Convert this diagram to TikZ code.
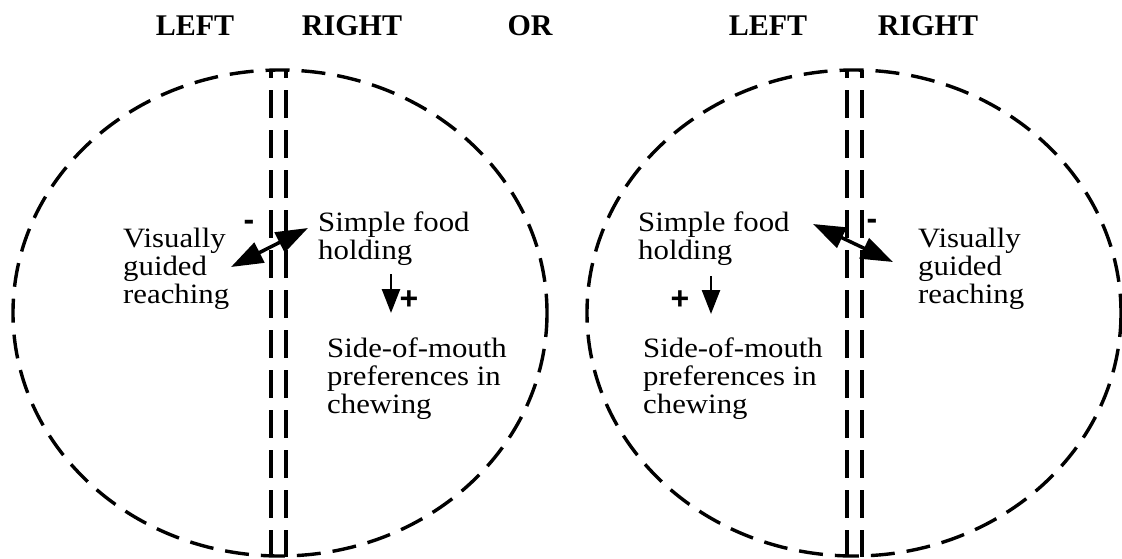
\documentclass[tikz,border=0pt]{standalone}
\usepackage{fontspec}
\setmainfont{Liberation Serif}
\newfontfamily\bodyfont{Liberation Serif}[FakeStretch=1.1]
\newfontfamily\signfont{Liberation Sans}
\usetikzlibrary{arrows.meta}
\begin{document}
\begin{tikzpicture}[x=1pt,y=-1pt,
  outline/.style={line width=3.4pt, dash pattern=on 24pt off 12pt},
  divider/.style={line width=3.4pt, dash pattern=on 28pt off 12pt, dash phase=20pt},
  body/.style={font=\bodyfont\fontsize{28}{28}\selectfont, align=left, inner sep=0pt, anchor=base west},
  title/.style={font=\bfseries\fontsize{30}{32}\selectfont, inner sep=0pt, anchor=base},
  sign/.style={font=\signfont\bfseries\fontsize{32}{32}\selectfont, inner sep=0pt},
  dbl/.style={line width=3.5pt, {Triangle[length=32pt,width=22pt]}-{Triangle[length=32pt,width=22pt]}},
  down/.style={line width=2.5pt, -{Triangle[length=24pt,width=18pt]}}]
\useasboundingbox (0,0) rectangle (1122,558);
% titles
\node[title] (tL1) at (195,35) {LEFT};
\node[title] (tR1) at (352,35) {RIGHT};
\node[title] (tOR) at (530,35) {OR};
\node[title] (tL2) at (768,35) {LEFT};
\node[title] (tR2) at (928,35) {RIGHT};
% left brain
\draw[outline] (280,313) ellipse [x radius=267, y radius=243];
\draw[divider] (271,70) -- (271,557);
\draw[divider] (286,70) -- (286,557);
\node[body] (vA) at (123,303) {Visually\\guided\\reaching};
\node[body] (sA) at (318,259) {Simple food\\holding};
\node[body] (mA) at (327,413) {Side-of-mouth\\preferences in\\chewing};
\node[sign] (minA) at (249,225) {-};
\node[sign] (plusA) at (409,300) {+};
\coordinate (a1) at (231,267);
\coordinate (a2) at (308,228);
\draw[dbl] (a1) -- (a2);
\coordinate (d1) at (391,274);
\coordinate (d2) at (391,313);
\draw[down] (d1) -- (d2);
% right brain
\draw[outline] (854,313) ellipse [x radius=267, y radius=243];
\draw[divider] (847,70) -- (847,557);
\draw[divider] (862,70) -- (862,557);
\node[body] (sB) at (638,259) {Simple food\\holding};
\node[body] (vB) at (918,303) {Visually\\guided\\reaching};
\node[body] (mB) at (643,413) {Side-of-mouth\\preferences in\\chewing};
\node[sign] (minB) at (872,224) {-};
\node[sign] (plusB) at (680,300) {+};
\coordinate (b1) at (813,224);
\coordinate (b2) at (893,262);
\draw[dbl] (b1) -- (b2);
\coordinate (e1) at (711,276);
\coordinate (e2) at (711,314);
\draw[down] (e1) -- (e2);
\end{tikzpicture}
\end{document}
